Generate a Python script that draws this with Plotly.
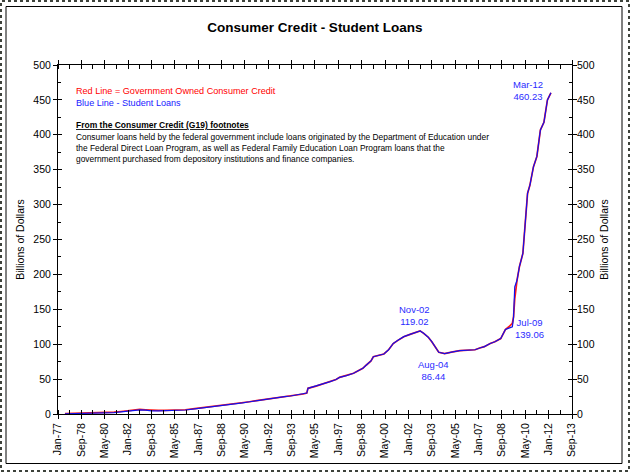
import plotly.graph_objects as go

# ---------------- data ----------------
dates = [
    "1977-07-01", "1978-01-01", "1978-07-01", "1979-01-01", "1979-07-01", "1980-01-01",
    "1980-07-01", "1981-01-01", "1981-07-01", "1982-01-01", "1982-07-01", "1982-11-01",
    "1983-04-01", "1983-09-01", "1984-03-01", "1984-08-01", "1985-03-01", "1985-09-01",
    "1986-02-01", "1986-10-01", "1987-06-01", "1988-03-01", "1988-11-01", "1989-08-01",
    "1990-03-01", "1990-09-01", "1991-03-01", "1991-09-01", "1992-02-01", "1992-09-01",
    "1993-03-01", "1993-08-01", "1994-02-01", "1994-07-01", "1994-10-01", "1994-11-01",
    "1995-06-01", "1995-12-01", "1996-06-01", "1996-11-01", "1997-02-01", "1997-08-01",
    "1998-02-01", "1998-06-01", "1998-10-01", "1999-01-01", "1999-05-01", "1999-07-01",
    "2000-01-01", "2000-04-01", "2000-08-01", "2000-12-01", "2001-04-01", "2001-09-01",
    "2002-03-01", "2002-08-01", "2002-11-01", "2003-02-01", "2003-06-01", "2003-09-01",
    "2003-12-01", "2004-03-01", "2004-08-01", "2004-11-01", "2005-03-01", "2005-09-01",
    "2006-02-01", "2006-06-01", "2006-10-01", "2007-02-01", "2007-06-01", "2007-11-01",
    "2008-03-01", "2008-08-01", "2008-12-01", "2009-03-01", "2009-06-01", "2009-07-01",
    "2009-08-01", "2009-10-01", "2009-12-01", "2010-03-01", "2010-06-01", "2010-07-01",
    "2010-09-01", "2010-12-01", "2011-03-01", "2011-04-01", "2011-06-01", "2011-09-01",
    "2011-12-01", "2012-03-01",
]
student_loans = [
    0.3, 0.5, 0.6, 0.7, 0.8, 1.0,
    1.3, 2.0, 3.0, 4.0, 5.2, 6.0,
    5.5, 4.5, 4.6, 4.7, 5.0, 5.3,
    5.7, 7.4, 9.0, 10.5, 12.3, 14.3,
    16.0, 17.6, 19.2, 20.5, 21.8, 23.3,
    24.8, 25.8, 27.2, 28.6, 30.0, 36.8,
    40.0, 43.5, 46.3, 49.5, 52.5, 55.0,
    58.3, 62.0, 65.5, 70.2, 76.0, 82.0,
    84.0, 86.0, 92.0, 101.0, 105.5, 110.8,
    114.5, 117.5, 119.02, 115.6, 110.0, 103.6,
    96.0, 88.5, 86.44, 88.0, 89.0, 90.7,
    91.5, 91.7, 92.0, 94.5, 96.5, 101.0,
    103.5, 108.0, 121.0, 123.0, 125.0, 139.06,
    182.0, 192.0, 211.0, 230.0, 302.0, 316.0,
    328.0, 354.0, 369.0, 383.0, 407.0, 418.0,
    450.0, 460.23,
]
gov_owned = [
    0.6, 0.8, 0.9, 1.0, 1.1, 1.3,
    1.8, 2.6, 3.6, 4.6, 5.8, 6.5,
    6.0, 5.2, 5.2, 5.3, 5.6, 5.8,
    6.1, 7.6, 9.2, 10.7, 12.4, 14.4,
    16.0, 17.6, 19.2, 20.5, 21.8, 23.3,
    24.8, 25.8, 27.2, 28.6, 30.0, 36.8,
    40.0, 43.5, 46.3, 49.5, 52.5, 55.0,
    58.3, 62.0, 65.5, 70.2, 76.0, 82.0,
    84.0, 86.0, 92.0, 101.0, 105.5, 110.8,
    114.5, 117.5, 119.02, 115.6, 110.0, 103.6,
    96.0, 88.5, 86.44, 88.0, 89.0, 90.7,
    91.5, 91.7, 92.0, 94.5, 96.5, 101.0,
    103.5, 108.0, 121.0, 125.0, 130.0, 139.06,
    165.0, 192.0, 211.0, 230.0, 302.0, 316.0,
    328.0, 354.0, 369.0, 383.0, 407.0, 418.0,
    450.0, 460.23,
]

tick_dates = [
    "1977-01-01", "1978-09-01", "1980-05-01", "1982-01-01", "1983-09-01", "1985-05-01",
    "1987-01-01", "1988-09-01", "1990-05-01", "1992-01-01", "1993-09-01", "1995-05-01",
    "1997-01-01", "1998-09-01", "2000-05-01", "2002-01-01", "2003-09-01", "2005-05-01",
    "2007-01-01", "2008-09-01", "2010-05-01", "2012-01-01", "2013-09-01",
]
tick_labels = [
    "Jan-77", "Sep-78", "May-80", "Jan-82", "Sep-83", "May-85", "Jan-87", "Sep-88",
    "May-90", "Jan-92", "Sep-93", "May-95", "Jan-97", "Sep-98", "May-00", "Jan-02",
    "Sep-03", "May-05", "Jan-07", "Sep-08", "May-10", "Jan-12", "Sep-13",
]
minor_dates = [
    "1977-11-01", "1979-07-01", "1981-03-01", "1982-11-01", "1984-07-01", "1986-03-01",
    "1987-11-01", "1989-07-01", "1991-03-01", "1992-11-01", "1994-07-01", "1996-03-01",
    "1997-11-01", "1999-07-01", "2001-03-01", "2002-11-01", "2004-07-01", "2006-03-01",
    "2007-11-01", "2009-07-01", "2011-03-01", "2012-11-01",
]
y_ticks = [0, 50, 100, 150, 200, 250, 300, 350, 400, 450, 500]
y_minor = [25, 75, 125, 175, 225, 275, 325, 375, 425, 475]

# labelled points: (date, value, label, xshift, yshift)
callouts = [
    ("2002-11-01", 119.02, "Nov-02", -6, 15),
    ("2004-08-01", 86.44, "Aug-04", -11, -17),
    ("2009-07-01", 139.06, "Jul-09", 16, -12),
    ("2012-03-01", 460.23, "Mar-12", -23, 2),
]

# ---------------- layout geometry ----------------
W, H = 630, 472
ML, MR, MT, MB = 58, 58, 65, 58
PW, PH = W - ML - MR, H - MT - MB


def px_x(p):
    return (p - ML) / PW


def px_y(p):
    return 1 - (p - MT) / PH


FONT = "Liberation Sans, Arial, sans-serif"
BLUE_TXT = "#2b2bff"

fig = go.Figure()
fig.add_trace(go.Scatter(x=dates, y=gov_owned, mode="lines",
                         line=dict(color="#ff1a1a", width=1.7),
                         hoverinfo="skip", showlegend=False))
fig.add_trace(go.Scatter(x=dates, y=student_loans, mode="lines",
                         line=dict(color="#1010ee", width=1.2),
                         hoverinfo="skip", showlegend=False))
# helper traces so that the overlay axes (tick crossings / right labels) render
fig.add_trace(go.Scatter(x=[], y=[], xaxis="x2", yaxis="y2", showlegend=False, hoverinfo="skip"))
fig.add_trace(go.Scatter(x=[], y=[], xaxis="x", yaxis="y3", showlegend=False, hoverinfo="skip"))

xrange = [tick_dates[0], tick_dates[-1]]
tickfont = dict(family=FONT, size=10.5, color="#000000")

fig.update_layout(
    width=W, height=H,
    margin=dict(l=ML, r=MR, t=MT, b=MB, pad=0),
    paper_bgcolor="white", plot_bgcolor="white",
    font=dict(family=FONT, color="#000000"),
    title=dict(text="<b>Consumer Credit - Student Loans</b>", x=0.5, xanchor="center",
               y=1 - 27 / H, yanchor="middle", yref="container",
               font=dict(family=FONT, size=13.5, color="#000000")),
    xaxis=dict(type="date", range=xrange, tickmode="array", tickvals=tick_dates,
               ticktext=tick_labels, tickangle=-90, tickfont=tickfont,
               ticks="outside", ticklen=4, tickcolor="black", tickwidth=1,
               showline=True, linecolor="black", linewidth=1, mirror="allticks",
               showgrid=False, zeroline=False,
               minor=dict(tickmode="array", tickvals=minor_dates, ticks="inside",
                          ticklen=3, tickcolor="black", showgrid=False)),
    xaxis2=dict(type="date", range=xrange, overlaying="x", anchor="y",
                tickmode="array", tickvals=tick_dates, showticklabels=False,
                ticks="inside", ticklen=4, tickcolor="black", mirror="allticks",
                showline=False, showgrid=False, zeroline=False),
    yaxis=dict(range=[0, 500], tickmode="array", tickvals=y_ticks, tickfont=tickfont,
               ticks="outside", ticklen=4, tickcolor="black", mirror="allticks",
               showline=True, linecolor="black", linewidth=1,
               showgrid=False, zeroline=False,
               title=dict(text="Billions of Dollars", standoff=6,
                          font=dict(family=FONT, size=10.5)),
               minor=dict(tickmode="array", tickvals=y_minor, ticks="inside",
                          ticklen=3, tickcolor="black", showgrid=False)),
    yaxis2=dict(range=[0, 500], overlaying="y", side="right", anchor="x2",
                tickmode="array", tickvals=y_ticks, tickfont=tickfont,
                ticks="", showline=False, showgrid=False, zeroline=False,
                ticklabelstandoff=4,
                title=dict(text="Billions of Dollars", standoff=6,
                           font=dict(family=FONT, size=10.5))),
    yaxis3=dict(range=[0, 500], overlaying="y", side="left", anchor="x",
                tickmode="array", tickvals=y_ticks, showticklabels=False,
                ticks="inside", ticklen=4, tickcolor="black", mirror="allticks",
                showline=False, showgrid=False, zeroline=False),
)

# frame borders
fig.add_shape(type="rect", xref="paper", yref="paper", layer="below",
              x0=px_x(1), x1=px_x(629), y0=px_y(471), y1=px_y(1),
              line=dict(color="#3d423b", width=2, dash="dot"))
fig.add_shape(type="rect", xref="paper", yref="paper", layer="below",
              x0=px_x(6), x1=px_x(622), y0=px_y(463.5), y1=px_y(6.5),
              line=dict(color="#000000", width=1))

# explanatory text
notes = [
    ("Red Line = Government Owned Consumer Credit", "#ff0000", 91, 9.1),
    ("Blue Line - Student Loans", "#1a1aff", 102.5, 9.1),
    ("<b><u>From the Consumer Credit (G19) footnotes</u></b>", "#000000", 125, 8.5),
    ("Consumer loans held by the federal government include loans originated by the Department of Education under", "#000000", 136.5, 8.4),
    ("the Federal Direct Loan Program, as well as Federal Family Education Loan Program loans that the", "#000000", 147.5, 8.4),
    ("government purchased from depository institutions and finance companies.", "#000000", 158.5, 8.4),
]
for text, color, ypx, fs in notes:
    fig.add_annotation(text=text, xref="paper", yref="paper", x=px_x(74), y=px_y(ypx),
                       xanchor="left", yanchor="middle", showarrow=False,
                       font=dict(family=FONT, size=fs, color=color))

for d, v, lab, xs, ys in callouts:
    fig.add_annotation(text=f"{lab}<br>{v:.2f}", x=d, y=v, xref="x", yref="y",
                       showarrow=False, xshift=xs, yshift=ys, align="center",
                       font=dict(family=FONT, size=9.5, color=BLUE_TXT))

fig.write_html("out.html")
